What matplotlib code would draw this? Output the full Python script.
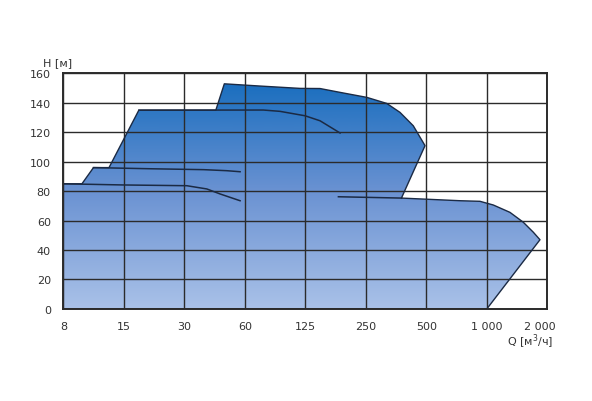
import numpy as np
import matplotlib
matplotlib.use("Agg")
import matplotlib.pyplot as plt
from matplotlib.patches import Polygon
from matplotlib.colors import LinearSegmentedColormap
from matplotlib.transforms import ScaledTranslation

# Tick positions (log2 spaced) and their nominal labels
x_ticks = [8, 16, 32, 64, 128, 256, 512, 1024, 2048]
x_labels = ["8", "15", "30", "60", "125", "250", "500", "1 000", "2 000"]
y_ticks = [0, 20, 40, 60, 80, 100, 120, 140, 160]

# Outline of the operating range (Q, H)
outline_q = [8, 8, 9.9, 11.3, 13.5, 19, 45.9, 50.6, 76, 120.4, 151.5, 190.4,
             258.8, 325.2, 378.7, 441, 504.5, 385, 754, 947, 1103, 1335,
             1555, 1745, 1883, 1024, 8]
outline_h = [0, 85, 85, 96, 96, 135, 135, 152.9, 151.4, 149.8, 149.7, 147.1,
             143.7, 139.6, 133.5, 124.4, 110.9, 75.3, 73.5, 73.1, 70.6, 65.6,
             58.9, 52.1, 47, 0, 0]

# Inner performance curves
curve1_q = [8, 16, 32.9, 41.4, 48.2, 60.6]
curve1_h = [85, 84.2, 83.7, 81.5, 78.1, 73.5]
curve2_q = [11.3, 22, 40, 52, 60.6]
curve2_h = [96, 95.2, 94.6, 93.9, 93.2]
curve3_q = [19, 79.1, 95.8, 127.6, 151.5, 190.6]
curve3_h = [135, 135.1, 134.2, 131.2, 127.8, 119.5]
curve4_q = [187, 385]
curve4_h = [76.2, 75.3]

fig = plt.figure(figsize=(5.92, 4.02), dpi=100)
ax = fig.add_axes([0.107, 0.229, 0.8175, 0.586])
ax.set_xscale("log", base=2)
ax.set_xlim(8, 2048)
ax.set_ylim(0, 160)

cmap = LinearSegmentedColormap.from_list("g", ["#a9c1e8", "#6a92d2", "#136bbd"])
grad = np.linspace(0, 1, 256).reshape(-1, 1)
im = ax.imshow(grad, cmap=cmap, origin="lower", aspect="auto",
               extent=[8, 2048, 0, 160], zorder=1, interpolation="bilinear")
poly = Polygon(np.column_stack([outline_q, outline_h]), closed=True,
               facecolor="none", edgecolor="#1b2a44", linewidth=1.0,
               joinstyle="round", zorder=3)
ax.add_patch(poly)
im.set_clip_path(poly)

for q, h in [(curve1_q, curve1_h), (curve2_q, curve2_h),
             (curve3_q, curve3_h), (curve4_q, curve4_h)]:
    ax.plot(q, h, color="#1b2a44", linewidth=1.1, zorder=3,
            solid_joinstyle="round")

ax.set_xticks(x_ticks)
ax.set_xticklabels(x_labels)
ax.xaxis.set_minor_locator(matplotlib.ticker.NullLocator())
ax.set_yticks(y_ticks)
ax.grid(True, color="#2b2b2b", linewidth=1.0, zorder=2)
ax.set_axisbelow(False)
for s in ax.spines.values():
    s.set_linewidth(1.4)
    s.set_color("#2b2b2b")
    s.set_zorder(4)
ax.tick_params(length=0, labelsize=8, colors="#333333", pad=9)
last = ax.xaxis.get_major_ticks()[-1].label1
last.set_transform(last.get_transform() + ScaledTranslation(-0.07, 0, fig.dpi_scale_trans))

fig.text(43 / 592, 1 - 63 / 402, "H [м]", fontsize=8, color="#333333",
         ha="left", va="center")
fig.text(553 / 592, 1 - 342 / 402, "Q [м$^3$/ч]", fontsize=8, color="#333333",
         ha="right", va="center")

fig.savefig("out.png", dpi=100)
